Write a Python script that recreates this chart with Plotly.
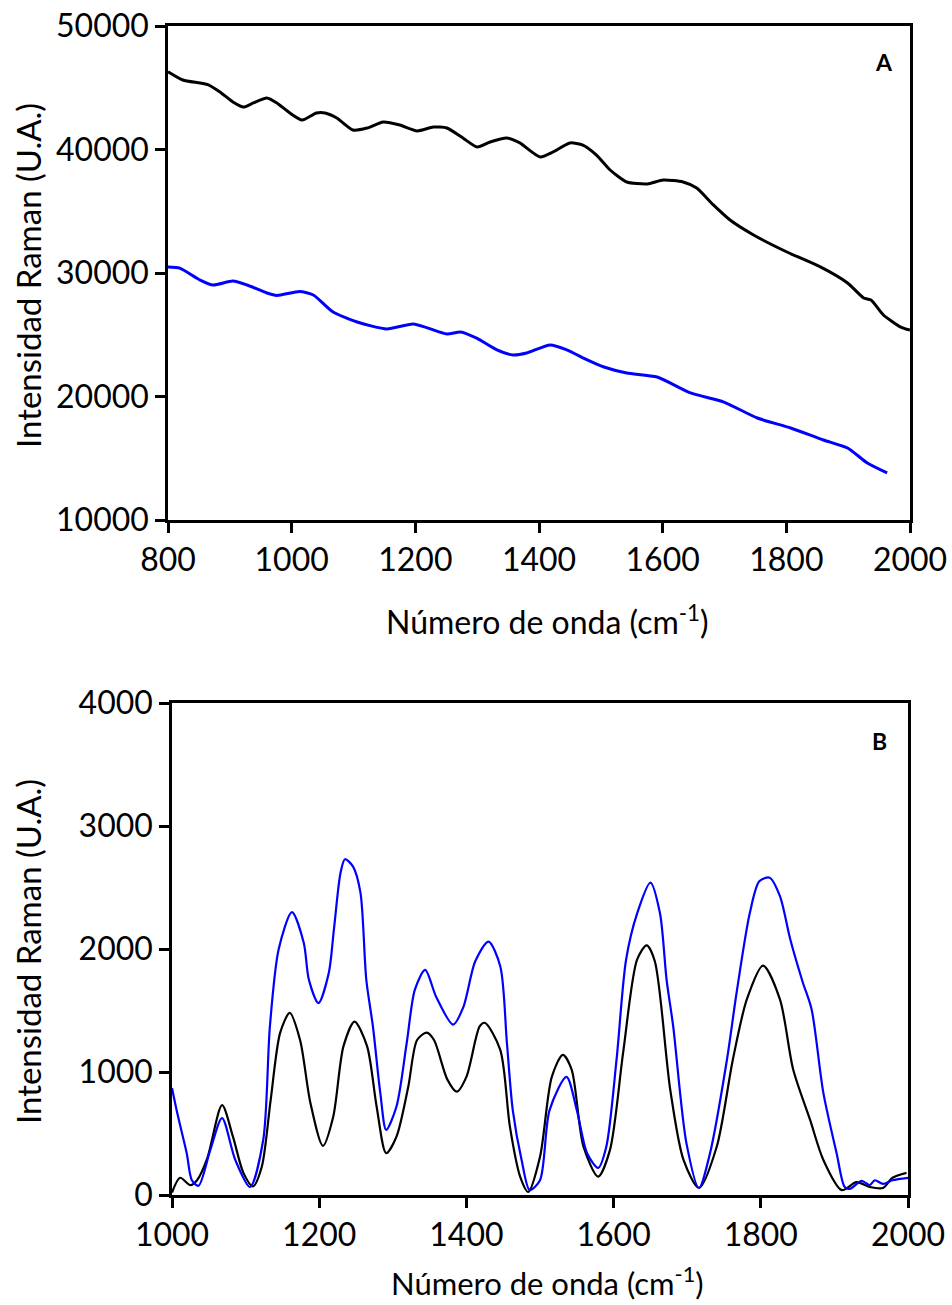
import plotly.graph_objects as go

# Panel A
a_black_x = [800, 824, 852, 866, 884, 905, 922, 938, 960, 976, 997, 1017, 1040, 1054, 1073, 1099,
             1122, 1148, 1175, 1203, 1229, 1251, 1277, 1300, 1321, 1348, 1369, 1402, 1423, 1450,
             1471, 1493, 1515, 1542, 1575, 1601, 1633, 1655, 1682, 1709, 1747, 1801, 1855, 1899,
             1925, 1937, 1957, 1985, 2000]
a_black_y = [46300, 45630, 45380, 45220, 44660, 43850, 43440, 43770, 44170, 43770, 42960, 42390,
             42960, 42960, 42550, 41580, 41740, 42230, 41980, 41500, 41820, 41740, 40930, 40200,
             40610, 40930, 40530, 39390, 39800, 40530, 40360, 39550, 38340, 37370, 37210, 37530,
             37370, 36880, 35510, 34290, 33080, 31700, 30490, 29190, 27980, 27810, 26600, 25620,
             25380]
a_blue_x = [800, 819, 852, 873, 905, 928, 960, 976, 1013, 1035, 1067, 1106, 1154, 1197, 1251, 1273,
            1300, 1332, 1358, 1380, 1418, 1445, 1478, 1505, 1542, 1591, 1645, 1699, 1753, 1807,
            1860, 1899, 1931, 1963]
a_blue_y = [30490, 30400, 29430, 29030, 29350, 29030, 28380, 28180, 28500, 28220, 26840, 26030,
            25470, 25870, 25060, 25220, 24700, 23770, 23360, 23520, 24170, 23770, 22960, 22390,
            21900, 21580, 20290, 19550, 18260, 17450, 16480, 15830, 14610, 13810]

# Panel B
b_black_x = [1000, 1011, 1025, 1034, 1048, 1068, 1083, 1097, 1110, 1122, 1134, 1147, 1160, 1174,
             1188, 1205, 1219, 1233, 1248, 1265, 1278, 1291, 1305, 1321, 1333, 1346, 1356, 1374,
             1387, 1400, 1418, 1425, 1446, 1459, 1473, 1484, 1500, 1516, 1531, 1543, 1559, 1579,
             1595, 1613, 1632, 1645, 1656, 1677, 1695, 1716, 1740, 1762, 1781, 1803, 1826, 1844,
             1867, 1885, 1910, 1930, 1948, 1966, 1979, 1998]
b_black_y = [20, 140, 80, 120, 300, 730, 470, 180, 70, 230, 770, 1320, 1480, 1260, 750, 400, 635,
             1210, 1410, 1210, 720, 340, 475, 880, 1260, 1320, 1260, 940, 840, 960, 1370, 1400,
             1180, 560, 150, 25, 310, 960, 1140, 1020, 395, 150, 365, 1160, 1915, 2030, 1900, 855,
             285, 57, 390, 1100, 1590, 1865, 1590, 1020, 610, 285, 40, 105, 65, 57, 140, 180]
b_blue_x = [1000, 1007, 1020, 1027, 1036, 1052, 1068, 1086, 1106, 1124, 1133, 1145, 1163, 1179,
            1186, 1199, 1213, 1220, 1229, 1235, 1246, 1256, 1264, 1273, 1283, 1291, 1305, 1319,
            1330, 1344, 1359, 1382, 1396, 1412, 1430, 1446, 1455, 1463, 1475, 1486, 1500, 1513,
            1536, 1550, 1564, 1579, 1590, 1604, 1617, 1632, 1650, 1663, 1672, 1681, 1699, 1716,
            1731, 1754, 1767, 1785, 1798, 1812, 1826, 1840, 1857, 1869, 1885, 1903, 1914, 1921,
            1937, 1948, 1955, 1966, 1979, 2000]
b_blue_y = [870, 670, 340, 120, 75, 365, 625, 285, 65, 450, 1370, 2000, 2300, 2050, 1750, 1560,
            1805, 2160, 2620, 2730, 2670, 2460, 1750, 1370, 830, 530, 720, 1240, 1670, 1830, 1610,
            1385, 1530, 1900, 2060, 1860, 1240, 690, 285, 40, 120, 690, 960, 690, 340, 220, 390,
            1100, 1915, 2290, 2540, 2290, 1750, 1370, 420, 57, 340, 1100, 1640, 2290, 2550, 2580,
            2430, 2080, 1730, 1510, 830, 340, 65, 50, 115, 80, 120, 90, 120, 140]

a_xticks = [800, 1000, 1200, 1400, 1600, 1800, 2000]
a_yticks = [10000, 20000, 30000, 40000, 50000]
b_xticks = [1000, 1200, 1400, 1600, 1800, 2000]
b_yticks = [0, 1000, 2000, 3000, 4000]

FONT = "Lato"
W, H = 952, 1305

fig = go.Figure()
fig.add_trace(go.Scatter(x=a_black_x, y=a_black_y, mode="lines", line=dict(color="black", width=3, shape="spline", smoothing=0.6), xaxis="x", yaxis="y"))
fig.add_trace(go.Scatter(x=a_blue_x, y=a_blue_y, mode="lines", line=dict(color="#0000ff", width=3, shape="spline", smoothing=0.6), xaxis="x", yaxis="y"))
fig.add_trace(go.Scatter(x=b_black_x, y=b_black_y, mode="lines", line=dict(color="black", width=2.2, shape="spline", smoothing=0.8), xaxis="x2", yaxis="y2"))
fig.add_trace(go.Scatter(x=b_blue_x, y=b_blue_y, mode="lines", line=dict(color="#0000ff", width=2.2, shape="spline", smoothing=0.8), xaxis="x2", yaxis="y2"))

ax = dict(showline=True, linecolor="black", linewidth=2.5, mirror=True, ticks="outside",
          ticklen=10, tickwidth=2.5, tickcolor="black", showgrid=False, zeroline=False,
          tickformat="d", tickfont=dict(family=FONT, size=32, color="black"), automargin=False)

fig.update_layout(
    width=W, height=H, margin=dict(l=0, r=0, t=0, b=0),
    paper_bgcolor="white", plot_bgcolor="white", showlegend=False,
    xaxis=dict(ax, domain=[168 / W, 910 / W], range=[800, 2000], tickvals=a_xticks, anchor="y"),
    yaxis=dict(ax, domain=[1 - 520 / H, 1 - 26 / H], range=[10000, 50000], tickvals=a_yticks, anchor="x"),
    xaxis2=dict(ax, domain=[172 / W, 908 / W], range=[1000, 2000], tickvals=b_xticks, anchor="y2"),
    yaxis2=dict(ax, domain=[1 - 1195 / H, 1 - 703 / H], range=[0, 4000], tickvals=b_yticks, anchor="x2"),
)

ann = [
    dict(text="Intensidad Raman (U.A.)", x=28 / W, y=1 - 276 / H, textangle=-90, size=33),
    dict(text="Número de onda (cm<sup>-1</sup>)", x=547 / W, y=1 - 620 / H, size=32),
    dict(text="Intensidad Raman (U.A.)", x=28 / W, y=1 - 952 / H, textangle=-90, size=33),
    dict(text="Número de onda (cm<sup>-1</sup>)", x=547 / W, y=1 - 1281 / H, size=31),
]
for a in ann:
    sz = a.pop("size")
    fig.add_annotation(xref="paper", yref="paper", showarrow=False,
                       font=dict(family=FONT, size=sz, color="black"),
                       xanchor="center", yanchor="middle", **a)
fig.add_annotation(xref="paper", yref="paper", x=884 / W, y=1 - 62 / H, text="<b>A</b>",
                   xanchor="center", yanchor="middle",
                   showarrow=False, font=dict(family=FONT, size=23, color="black"))
fig.add_annotation(xref="paper", yref="paper", x=879 / W, y=1 - 741 / H, text="<b>B</b>",
                   xanchor="center", yanchor="middle",
                   showarrow=False, font=dict(family=FONT, size=23, color="black"))

fig.write_html("out.html")
